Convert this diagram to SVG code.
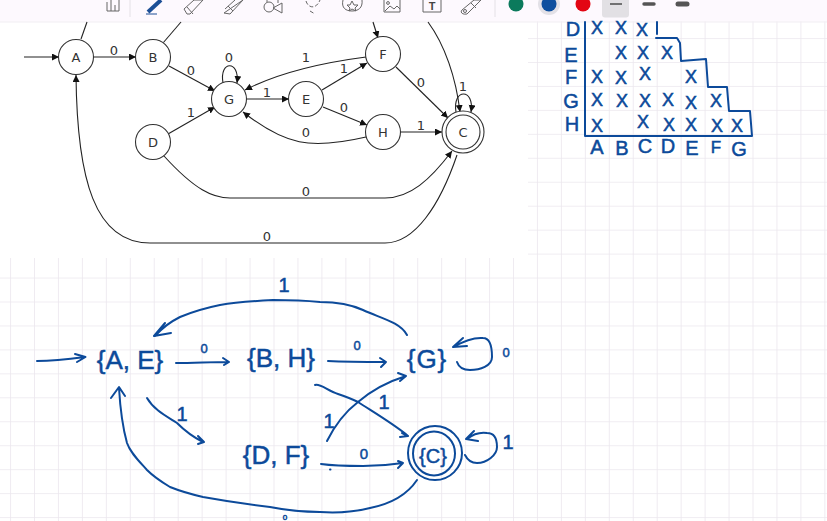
<svg xmlns="http://www.w3.org/2000/svg" width="827" height="521" viewBox="0 0 827 521">
<defs>
<pattern id="grid" patternUnits="userSpaceOnUse" width="23.95" height="23.95" patternTransform="translate(10.05 14.1)">
<path d="M0 0H23.95M0 0V23.95" fill="none" stroke="#ebe7ee" stroke-width="1.6"/>
</pattern>
<marker id="ah" markerWidth="8" markerHeight="8" refX="7" refY="3.5" orient="auto" markerUnits="userSpaceOnUse"><path d="M0 0L7 3.5L0 7Z" fill="#111"/></marker>
</defs>
<style>
.n{fill:#fff;stroke:#333;stroke-width:1.1}
.e{fill:none;stroke:#222;stroke-width:1.1;marker-end:url(#ah)}
.ne{fill:none;stroke:#222;stroke-width:1.1}
.l{font-family:"DejaVu Sans",sans-serif;font-size:13px;fill:#333;text-anchor:middle}
.ink{fill:none;stroke:#0c4a9a;stroke-width:2;stroke-linecap:round;stroke-linejoin:round}
.h{font-family:"Liberation Sans",sans-serif;fill:#0c4a9a;stroke:#0c4a9a;stroke-width:.5;text-anchor:middle}
.x{font-size:18px}
.t{font-size:20px}
.s{font-size:26px}
.o{font-size:13px}
.ic{fill:none;stroke:#666;stroke-width:1}
</style>
<rect width="827" height="521" fill="#fff"/>
<rect y="0" width="827" height="521" fill="url(#grid)"/>
<rect x="0" y="0" width="528" height="258" fill="#fff"/>

<g id="toolbar">
<rect width="827" height="21.5" fill="#fdf9fe"/>
<path d="M0 22H827" stroke="#f1edf3" stroke-width="1"/>
<path class="ic" d="M107 2V11H119V0M111 0V11M115 5V11"/>
<path d="M130 0V17M495 0V17" stroke="#e4e1e6"/>
<path d="M148 12L161 0" stroke="#1c4f96" stroke-width="4"/>
<path d="M146 14H157" stroke="#1c4f96" stroke-width="1"/>
<path class="ic" d="M184 9L194 0H203L190 14H187ZM187 7L193 14"/>
<path class="ic" d="M225 9L235 0M243 0L230 14L224 13ZM228 6L233 11"/>
<circle class="ic" cx="269" cy="7" r="5"/><path class="ic" d="M282 3V13L273 8Z"/><path class="ic" d="M267 2V0M278 0V3"/>
<path class="ic" stroke-dasharray="4 2" d="M306 1C308 8 316 10 320 0M310 11L315 14"/>
<path class="ic" d="M343 0C341 8 346 11 352 11C358 11 363 8 362 0"/><path class="ic" d="M352 1L354 5L358 5L355 8L356 11L352 9L349 11L350 8L347 5L350 5Z"/>
<path class="ic" d="M384 0V12H400V0M385 11L390 6L394 9L397 6L400 9"/><circle class="ic" cx="388" cy="3" r="1.4"/>
<path class="ic" d="M423 0V12H441V0"/>
<text x="432" y="10" font-family="'Liberation Sans',sans-serif" font-size="11" font-weight="bold" fill="#444" text-anchor="middle">T</text>
<path class="ic" d="M462 10L474 0H481L467 14C462 15 460 12 462 10ZM471 3L476 8"/><circle class="ic" cx="465" cy="11" r="1.5"/>
<circle cx="549" cy="4" r="11" fill="#e3e1e7"/>
<circle cx="516" cy="4" r="7.5" fill="#0b7a5c"/>
<circle cx="549" cy="4" r="7.5" fill="#0e4f9f"/>
<circle cx="583" cy="4" r="7.5" fill="#e30613"/>
<rect x="602" y="-4" width="27" height="21.5" rx="3" fill="#e2e0e4"/>
<path d="M610 4H622" stroke="#555" stroke-width="1.6"/>
<path d="M644 4H654" stroke="#555" stroke-width="3.4" stroke-linecap="round"/>
<path d="M678 4H687" stroke="#555" stroke-width="5" stroke-linecap="round"/>
</g>

<g id="connectors">
<path class="ne" d="M81 39L87 22"/>
<path class="ne" d="M163 43L181 22"/>
<path class="e" d="M373 22L378 38"/>
<path class="e" d="M428 22C445 45 456 78 460 112"/>
<path class="e" d="M24 57H59"/>
<path class="e" d="M94 57H136"/>
<path class="e" d="M169 66L215 91"/>
<path class="e" d="M223 83C219 60 240 60 237 83"/>
<path class="e" d="M247 99H289"/>
<path class="e" d="M168 134L215 107"/>
<path class="e" d="M322 90L367 63"/>
<path class="e" d="M323 107L367 125"/>
<path class="e" d="M366 57C320 63 280 72 245 90"/>
<path class="e" d="M366 137C310 150 285 145 243 112"/>
<path class="e" d="M396 67L448 118"/>
<path class="e" d="M400 132H442"/>
<path class="e" d="M456 112C452 88 475 88 471 112"/>
<path class="e" d="M164 156C195 190 213 198 230 198H385C410 198 430 180 452 151"/>
<path class="e" d="M457 155C440 205 415 243 385 243H150C95 243 77 180 76 75"/>

<path class="ink" d="M37 361C52 361 70 359 85 357M75 354L85.500 357L77 362"/>
<path class="ink" d="M176 363C194 363 211 362 229 362M223 358L229 362L224 365"/>
<path class="ink" d="M147 398C154 410 166 416 177 423C186 432 195 438 203 442M198 436L204 442L198 444"/>
<path class="ink" d="M417 480C405 498 385 505 370 508C350 513 335 513 320 512C300 512 285 510 270 507C245 504 225 501 203 497C190 494 180 491 170 487C160 481 153 476 147 470C138 460 130 452 127 443C122 425 120 405 119 388M111 398L119 387L125 396"/>
<path class="ink" d="M407 335C400 322 380 318 363 310C350 304 335 302 320 302C300 300 285 300 273 300C255 301 238 302 220 305C205 308 192 312 180 317C170 322 162 328 155 336M165 323L154 336L171 333"/>
<path class="ink" d="M328 361C347 362 367 362 386 362M380 358L386 362L381 367"/>
<path class="ink" d="M457 362C459 368 464 370 470 370C480 370 492 366 492 357C492 345 489 338 483 338C473 337 462 342 453 347M463 338L453 347L467 346"/>
<path class="ink" d="M315 385C320 383 328 391 338 394C350 398 354 400 358 402C375 413 392 423 407 435M402 433L408 436L400 437"/>
<path class="ink" d="M327 441C335 425 345 412 358 402C372 390 390 381 406 376M398 373L406 376L400 381"/>
<path class="ink" d="M321 464C335 466 350 466 363 466C378 466 390 465 403 463M398 461L403 463L398 468"/>
<path class="ink" d="M465 455C468 461 472 463 477 463C487 463 497 455 497 447C497 437 493 433 487 433C480 432 472 435 467 439M474 431L466 439L478 441"/>
<path class="ink" d="M330 469.500H330.500"/>
</g>

<g id="node-A"><circle class="n" cx="76" cy="57" r="17.500"/><text class="l" x="76" y="62">A</text></g>
<g id="node-B"><circle class="n" cx="153" cy="57" r="17.500"/><text class="l" x="153" y="62">B</text></g>
<g id="node-G"><circle class="n" cx="229" cy="99" r="17.500"/><text class="l" x="229" y="104">G</text></g>
<g id="node-E"><circle class="n" cx="306" cy="99" r="17.500"/><text class="l" x="306" y="104">E</text></g>
<g id="node-F"><circle class="n" cx="383" cy="54" r="17.500"/><text class="l" x="383" y="59">F</text></g>
<g id="node-H"><circle class="n" cx="383" cy="132" r="17.500"/><text class="l" x="383" y="137">H</text></g>
<g id="node-D"><circle class="n" cx="153" cy="142" r="17.500"/><text class="l" x="153" y="147">D</text></g>
<g id="node-C"><circle class="n" cx="463" cy="132" r="21"/><circle class="n" cx="463" cy="132" r="17"/><text class="l" x="463" y="137">C</text></g>

<g id="edge-labels">
<text class="l" x="114" y="55">0</text><text class="l" x="191" y="75">0</text><text class="l" x="229" y="62">0</text>
<text class="l" x="191" y="117">1</text><text class="l" x="267" y="97">1</text><text class="l" x="306" y="62">1</text>
<text class="l" x="344" y="73">1</text><text class="l" x="344" y="112">0</text><text class="l" x="421" y="87">0</text>
<text class="l" x="306" y="137">0</text><text class="l" x="421" y="130">1</text><text class="l" x="463" y="91">1</text>
<text class="l" x="306" y="196">0</text><text class="l" x="267" y="241">0</text>
</g>

<g id="table">
<path class="ink" d="M585 22V136H752L750 111H729L727 87H708L706 59L681 61L680 43L677 38H656M657 22V34"/>
<g class="h x">
<text x="597" y="34">X</text><text x="621" y="34">X</text><text x="642" y="36">X</text>
<text x="621" y="59">X</text><text x="643" y="59">X</text><text x="667" y="59">X</text>
<text x="597" y="83">X</text><text x="621" y="84">X</text><text x="645" y="80">X</text><text x="691" y="83">X</text>
<text x="597" y="106">X</text><text x="622" y="107">X</text><text x="645" y="107">X</text><text x="668" y="106">X</text><text x="691" y="109">X</text><text x="716" y="107">X</text>
<text x="597" y="132">X</text><text x="643" y="128">X</text><text x="669" y="131">X</text><text x="691" y="131">X</text><text x="717" y="132">X</text><text x="737" y="132">X</text>
</g>
<g class="h t">
<text x="573" y="36">D</text><text x="571" y="62">E</text><text x="571" y="84">F</text><text x="571" y="108">G</text><text x="572" y="131">H</text>
<text x="597" y="154">A</text><text x="622" y="155">B</text><text x="645" y="153">C</text><text x="668" y="153">D</text><text x="692" y="155">E</text><text x="739" y="156">G</text>
<text x="716" y="153" font-size="17">F</text>
</g>
</g>

<g id="state-AE"><text class="h s" x="130" y="369">{A, E}</text></g>
<g id="state-BH"><text class="h s" x="281" y="367">{B, H}</text></g>
<g id="state-G"><text class="h s" x="427" y="368" letter-spacing="1">{G}</text></g>
<g id="state-DF"><text class="h s" x="276" y="464">{D, F}</text></g>
<g id="state-C">
<ellipse class="ink" cx="435" cy="453" rx="27" ry="27"/>
<ellipse class="ink" cx="434" cy="453.500" rx="21" ry="22"/>
<text class="h" font-size="20" x="433" y="463">{C}</text>
</g>
<g id="hand-labels">
<text class="h o" x="204" y="353">0</text>
<text class="h o" x="357" y="350">0</text>
<text class="h t" x="284" y="292">1</text>
<text class="h t" x="182" y="421">1</text>
<text class="h t" x="329" y="428">1</text>
<text class="h t" x="384" y="409">1</text>
<text class="h" font-size="15" x="364" y="459">0</text>
<text class="h o" x="506" y="357">0</text>
<text class="h t" x="508" y="449">1</text>
<text class="h" font-size="8" x="285" y="520">0</text>
</g>
</svg>
